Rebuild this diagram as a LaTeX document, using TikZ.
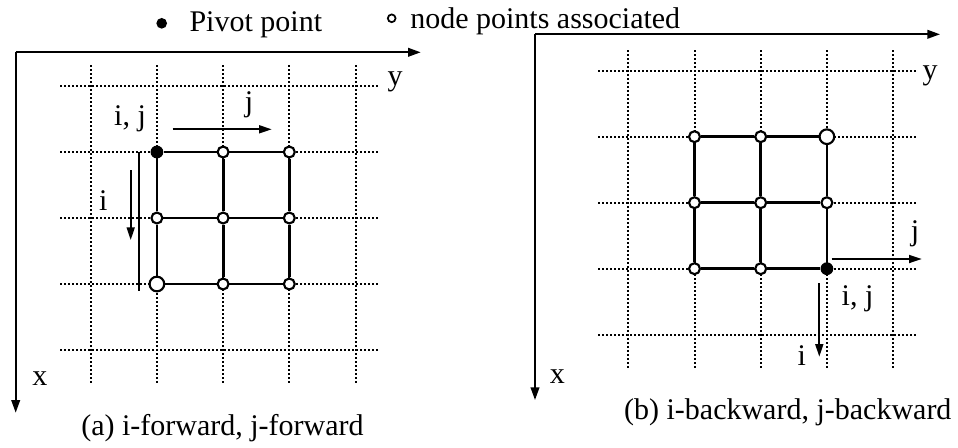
\documentclass[tikz,border=0pt]{standalone}
\usepackage{fontspec}
\setmainfont{Liberation Serif}
\usetikzlibrary{arrows.meta}
\tikzset{
  axisline/.style={-{Triangle[length=9.5pt,width=6.5pt]},line width=1.35pt},
  dirarrow/.style={-{Triangle[length=9.5pt,width=6pt]},line width=1.25pt},
  dotline/.style={line width=1.5pt,dash pattern=on 1.4pt off 1.6pt},
  meshline/.style={line width=2.1pt},
  opendot/.style={circle,draw,fill=white,line width=1.6pt,inner sep=0pt,minimum size=8.2pt},
  bigdot/.style={opendot,minimum size=11pt},
  pivotdot/.style={circle,fill=black,inner sep=0pt,minimum size=9.6pt},
  lbl/.style={inner sep=0pt,anchor=base}
}
\begin{document}
\begin{tikzpicture}[x=0.75pt,y=-0.75pt,font=\fontsize{22.5}{27}\selectfont]
  \useasboundingbox (0,0) rectangle (958,447);
  % 图例
  \node[pivotdot,minimum size=8pt] (keypivot) at (161.7,23.3) {};
  \node[lbl,anchor=base west] (keypivottext) at (189.3,31.7) {Pivot point};
  \node[opendot,line width=1.3pt,minimum size=5.8pt] (keynode) at (391.7,18.3) {};
  \node[lbl,anchor=base west] (keynodetext) at (410,28) {node points associated};
  % (a) 坐标轴
  \coordinate (aO) at (15.7,52.3);
  \coordinate (aY) at (420.7,52.3);
  \coordinate (aX) at (15.7,412.7);
  \draw[axisline] (aO) -- (aY);
  \draw[axisline] (aO) -- (aX);
  \node[lbl] (ay) at (395,85) {y};
  \node[lbl] (ax) at (40,385) {x};
  % (a) 虚线网格
  \foreach \k in {0,...,4} {
    \draw[dotline] (60,{86+66*\k}) -- (378.3,{86+66*\k});
    \draw[dotline] ({90.7+66.2*\k},65) -- ({90.7+66.2*\k},383.3);
  }
  % (a) 节点，枢轴点在左上
  \node[pivotdot] (a11) at (156.9,152) {};
  \node[opendot] (a12) at (223.1,152) {};
  \node[opendot] (a13) at (289.3,152) {};
  \node[opendot] (a21) at (156.9,218) {};
  \node[opendot] (a22) at (223.1,218) {};
  \node[opendot] (a23) at (289.3,218) {};
  \node[bigdot] (a31) at (156.9,284) {};
  \node[opendot] (a32) at (223.1,284) {};
  \node[opendot] (a33) at (289.3,284) {};
  \draw[meshline] (a11) -- (a12) -- (a13);
  \draw[meshline] (a21) -- (a22) -- (a23);
  \draw[meshline] (a31) -- (a32) -- (a33);
  \draw[meshline] (a11) -- (a21) -- (a31);
  \draw[meshline] (a12) -- (a22) -- (a32);
  \draw[meshline] (a13) -- (a23) -- (a33);
  % (a) i、j 方向箭头
  \coordinate (ajs) at (172.7,129.3);
  \coordinate (aje) at (271.7,129.3);
  \draw[dirarrow] (ajs) -- (aje);
  \coordinate (ais) at (130.7,170);
  \coordinate (aie) at (130.7,240);
  \draw[dirarrow] (ais) -- (aie);
  \coordinate (abs) at (139.3,151.7);
  \coordinate (abe) at (139.3,290.7);
  \draw[line width=1.6pt] (abs) -- (abe);
  \node[lbl] (aij) at (130,125) {i, j};
  \node[lbl] (aj) at (249,111.7) {j};
  \node[lbl] (ai) at (103.3,210) {i};
  \node[lbl] (acap) at (222.5,435) {(a) i-forward, j-forward};
  % (b) 坐标轴
  \coordinate (bO) at (535,34.3);
  \coordinate (bY) at (940,34.3);
  \coordinate (bX) at (535,400);
  \draw[axisline] (bO) -- (bY);
  \draw[axisline] (bO) -- (bX);
  \node[lbl] (by) at (930,79) {y};
  \node[lbl] (bx) at (557.3,383.3) {x};
  % (b) 虚线网格
  \foreach \k in {0,...,4} {
    \draw[dotline] (598.3,{70.7+66*\k}) -- (916.7,{70.7+66*\k});
    \draw[dotline] ({628.3+66.2*\k},50) -- ({628.3+66.2*\k},369.3);
  }
  % (b) 节点，枢轴点在右下
  \node[opendot] (b11) at (694.5,136.7) {};
  \node[opendot] (b12) at (760.7,136.7) {};
  \node[bigdot] (b13) at (826.9,136.7) {};
  \node[opendot] (b21) at (694.5,202.7) {};
  \node[opendot] (b22) at (760.7,202.7) {};
  \node[opendot] (b23) at (826.9,202.7) {};
  \node[opendot] (b31) at (694.5,268.7) {};
  \node[opendot] (b32) at (760.7,268.7) {};
  \node[pivotdot] (b33) at (826.9,268.7) {};
  \draw[meshline] (b11) -- (b12) -- (b13);
  \draw[meshline] (b21) -- (b22) -- (b23);
  \draw[meshline] (b31) -- (b32) -- (b33);
  \draw[meshline] (b11) -- (b21) -- (b31);
  \draw[meshline] (b12) -- (b22) -- (b32);
  \draw[meshline] (b13) -- (b23) -- (b33);
  % (b) i、j 方向箭头
  \coordinate (bjs) at (831.7,259);
  \coordinate (bje) at (921.7,259);
  \draw[dirarrow] (bjs) -- (bje);
  \coordinate (bis) at (819.3,283.3);
  \coordinate (bie) at (819.3,356.7);
  \draw[dirarrow] (bis) -- (bie);
  \node[lbl] (bj) at (915,240) {j};
  \node[lbl] (bij) at (857.5,305) {i, j};
  \node[lbl] (bi) at (801.7,365) {i};
  \node[lbl] (bcap) at (787.8,419) {(b) i-backward, j-backward};
\end{tikzpicture}
\end{document}
